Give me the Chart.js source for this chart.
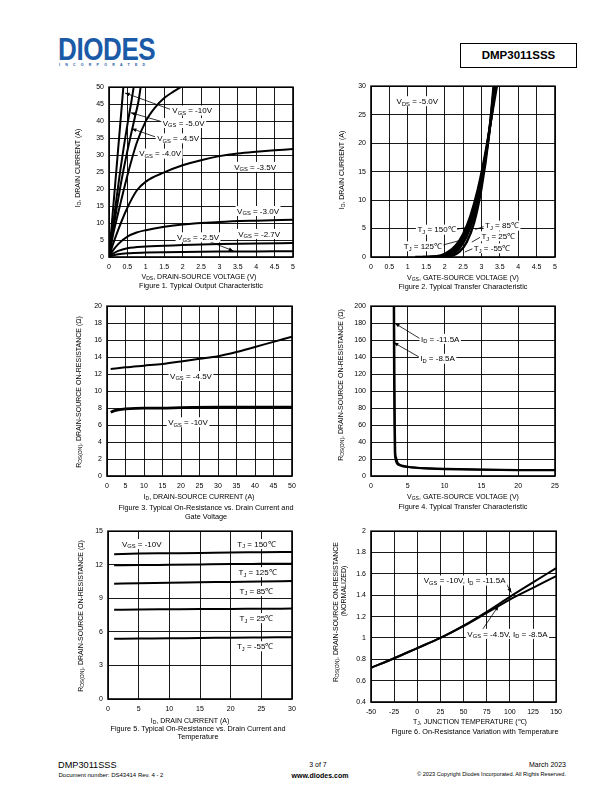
<!DOCTYPE html>
<html>
<head>
<meta charset="utf-8">
<title>DMP3011SSS typical characteristics</title>
<script src="https://cdn.jsdelivr.net/npm/chart.js@4.4.1/dist/chart.umd.min.js"></script>
<style>
  body { margin: 0; background: #fff; }
  #page { position: relative; width: 612px; height: 792px; overflow: hidden;
          font-family: "Liberation Sans", Arial, Helvetica, sans-serif; color: #000; }
  #page canvas { position: absolute; }
  .t { position: absolute; white-space: nowrap; line-height: 1; }
  .c { transform: translateX(-50%); text-align: center; }
  .r { transform: translate(-50%, -50%) rotate(-90deg); }
  sub { font-size: 72%; vertical-align: -0.25em; line-height: 0; }
</style>
</head>
<body>
<div id="page">
  <!-- header -->
  <div class="t" style="left:58px;top:33.5px;font-size:31px;font-weight:bold;color:#1b5aa7;transform-origin:0 0;transform:scaleX(0.84);letter-spacing:-0.5px">DIODES</div>
  <div class="t" style="left:59px;top:64px;font-size:3.6px;font-weight:bold;color:#1b5aa7;letter-spacing:5.2px">INCORPORATED</div>
  <div class="t" style="left:460px;top:42.5px;width:115px;height:23px;border:1px solid #000;font-size:11.5px;font-weight:bold;text-align:center;line-height:23px">DMP3011SSS</div>

  <canvas id="fig1"></canvas>
  <canvas id="fig2"></canvas>
  <canvas id="fig3"></canvas>
  <canvas id="fig4"></canvas>
  <canvas id="fig5"></canvas>
  <canvas id="fig6"></canvas>

  <!-- figure 1 -->
  <div class="t r" style="left:77px;top:168px;font-size:7px">I<sub>D</sub>, DRAIN CURRENT (A)</div>
  <div class="t c" style="left:199px;top:272.5px;font-size:7px">V<sub>DS</sub>, DRAIN-SOURCE VOLTAGE (V)</div>
  <div class="t c" style="left:201px;top:282px;font-size:7.3px">Figure 1. Typical Output Characteristic</div>
  <!-- figure 2 -->
  <div class="t r" style="left:341px;top:170px;font-size:7px">I<sub>D</sub>, DRAIN CURRENT (A)</div>
  <div class="t c" style="left:463px;top:273.5px;font-size:7px">V<sub>GS</sub>, GATE-SOURCE VOLTAGE (V)</div>
  <div class="t c" style="left:463px;top:282.5px;font-size:7.3px">Figure 2. Typical Transfer Characteristic</div>
  <!-- figure 3 -->
  <div class="t r" style="left:78px;top:392px;font-size:7px">R<sub>DS(ON)</sub>, DRAIN-SOURCE ON-RESISTANCE (Ω)</div>
  <div class="t c" style="left:199px;top:493px;font-size:7px">I<sub>D</sub>, DRAIN-SOURCE CURRENT (A)</div>
  <div class="t c" style="left:206px;top:502.5px;font-size:7.3px;line-height:9px">Figure 3. Typical On-Resistance vs. Drain Current and<br>Gate Voltage</div>
  <!-- figure 4 -->
  <div class="t r" style="left:340px;top:385px;font-size:7px">R<sub>DS(ON)</sub>, DRAIN-SOURCE ON-RESISTANCE (Ω)</div>
  <div class="t c" style="left:463px;top:493px;font-size:7px">V<sub>GS</sub>, GATE-SOURCE VOLTAGE (V)</div>
  <div class="t c" style="left:463px;top:502.5px;font-size:7.3px">Figure 4. Typical Transfer Characteristic</div>
  <!-- figure 5 -->
  <div class="t r" style="left:80px;top:616px;font-size:7px">R<sub>DS(ON)</sub>, DRAIN-SOURCE ON-RESISTANCE (Ω)</div>
  <div class="t c" style="left:190px;top:716.5px;font-size:7px">I<sub>D</sub>, DRAIN CURRENT (A)</div>
  <div class="t c" style="left:198px;top:724.5px;font-size:7.3px;line-height:8.5px">Figure 5. Typical On-Resistance vs. Drain Current and<br>Temperature</div>
  <!-- figure 6 -->
  <div class="t r" style="left:335px;top:612px;font-size:7px">R<sub>DS(ON)</sub>, DRAIN-SOURCE ON-RESISTANCE</div>
  <div class="t r" style="left:343px;top:591px;font-size:7px">(NORMALIZED)</div>
  <div class="t c" style="left:470px;top:718px;font-size:7px">T<sub>J</sub>, JUNCTION TEMPERATURE (℃)</div>
  <div class="t c" style="left:475px;top:727.5px;font-size:7.3px">Figure 6. On-Resistance Variation with Temperature</div>

  <!-- footer -->
  <div class="t" style="left:58px;top:760.5px;font-size:9.2px">DMP3011SSS</div>
  <div class="t" style="left:58.5px;top:771.5px;font-size:6px">Document number: DS43414 Rev. 4 - 2</div>
  <div class="t c" style="left:318px;top:761px;font-size:7px">3 of 7</div>
  <div class="t c" style="left:320px;top:771.5px;font-size:7px;font-weight:bold">www.diodes.com</div>
  <div class="t" style="right:46px;top:761px;font-size:7px">March 2023</div>
  <div class="t" style="right:46px;top:772px;font-size:5.6px">© 2023 Copyright Diodes Incorporated. All Rights Reserved.</div>
</div>

<script>
const FONT = '"Liberation Sans", Arial, Helvetica, sans-serif';

// ---- Figure 1: ID vs VDS for several VGS
const fig1XTicks = [0, 0.5, 1, 1.5, 2, 2.5, 3, 3.5, 4, 4.5, 5];
const fig1YTicks = [0, 5, 10, 15, 20, 25, 30, 35, 40, 45, 50];
const vgs10X  = [0, 0.1, 0.2, 0.3, 0.39];
const vgs10Y  = [0, 12.8, 25.6, 38.4, 50];
const vgs50X  = [0, 0.1, 0.2, 0.3, 0.4, 0.5, 0.6, 0.67];
const vgs50Y  = [0, 8.5, 17, 25, 32.3, 39, 45.2, 50];
const vgs45X  = [0, 0.1, 0.2, 0.3, 0.4, 0.5, 0.6, 0.7, 0.8, 0.86];
const vgs45Y  = [0, 7, 13.8, 20.2, 26, 31.3, 36.2, 41, 45.8, 50];
const vgs40X  = [0, 0.1, 0.25, 0.5, 0.75, 1, 1.25, 1.5, 1.75, 1.95];
const vgs40Y  = [0, 6, 13, 24, 33.5, 40, 44, 46.8, 48.7, 50];
const vgs35X  = [0, 0.1, 0.25, 0.5, 0.75, 1, 1.5, 2, 2.5, 3, 3.5, 4, 4.5, 5];
const vgs35Y  = [0, 3.5, 8, 14.5, 19.5, 22.2, 24.9, 27, 28.5, 29.7, 30.5, 31, 31.4, 31.8];
const vgs30X  = [0, 0.1, 0.25, 0.5, 0.75, 1, 1.5, 2, 3, 4, 5];
const vgs30Y  = [0, 1.8, 3.8, 6, 7.2, 7.9, 8.9, 9.6, 10.3, 10.7, 11];
const vgs27X  = [0, 0.1, 0.25, 0.5, 1, 2, 3, 4, 5];
const vgs27Y  = [0, 0.9, 1.8, 2.6, 3.1, 3.5, 3.8, 4, 4.1];
const vgs25X  = [0, 0.1, 0.25, 0.5, 1, 2, 3, 4, 5];
const vgs25Y  = [0, 0.4, 0.8, 1.1, 1.3, 1.5, 1.6, 1.65, 1.7];

// ---- Figure 2: ID vs VGS at several TJ
const fig2XTicks = [0, 0.5, 1, 1.5, 2, 2.5, 3, 3.5, 4, 4.5, 5];
const fig2YTicks = [0, 5, 10, 15, 20, 25, 30];
const tj150X = [1.2, 1.6, 1.9, 2.1, 2.3, 2.5, 2.7, 2.9, 3.1, 3.3, 3.42];
const tj150Y = [0, 0.05, 0.3, 0.9, 2, 4, 7.2, 11.8, 18, 25.5, 30];
const tj125X = [1.4, 1.8, 2, 2.2, 2.4, 2.6, 2.8, 3, 3.2, 3.39];
const tj125Y = [0, 0.1, 0.35, 1.1, 2.5, 4.9, 8.6, 14, 21.5, 30];
const tj85X  = [1.6, 1.9, 2.1, 2.3, 2.5, 2.7, 2.9, 3.1, 3.3, 3.37];
const tj85Y  = [0, 0.1, 0.45, 1.3, 3, 5.9, 10.4, 17, 26, 30];
const tj25X  = [1.8, 2, 2.2, 2.4, 2.6, 2.8, 3, 3.2, 3.35];
const tj25Y  = [0, 0.1, 0.45, 1.5, 3.6, 7.2, 13, 21.5, 30];
const tjm55X = [2, 2.2, 2.4, 2.6, 2.8, 3, 3.2, 3.33];
const tjm55Y = [0, 0.2, 0.9, 2.6, 6, 12, 21, 30];

// ---- Figure 3: RDS(on) vs ID at two VGS
const fig3XTicks = [0, 5, 10, 15, 20, 25, 30, 35, 40, 45, 50];
const fig3YTicks = [0, 2, 4, 6, 8, 10, 12, 14, 16, 18, 20];
const r45X = [1, 5, 10, 15, 20, 25, 30, 35, 40, 45, 50];
const r45Y = [12.6, 12.8, 13, 13.2, 13.5, 13.8, 14.1, 14.6, 15.2, 15.8, 16.4];
const r10X = [1, 2, 3, 5, 10, 15, 20, 30, 40, 50];
const r10Y = [7.5, 7.7, 7.8, 7.9, 8, 8, 8.05, 8.1, 8.1, 8.1];

// ---- Figure 4: RDS(on) vs VGS
const fig4XTicks = [0, 5, 10, 15, 20, 25];
const fig4YTicks = [0, 20, 40, 60, 80, 100, 120, 140, 160, 180, 200];
const id115X = [3.15, 3.2, 3.25, 3.3, 3.4, 3.6, 4, 4.5, 5, 6, 8, 10, 15, 20, 25];
const id115Y = [200, 120, 60, 30, 22, 16, 13, 11.8, 11, 10, 9, 8.4, 7.7, 7.2, 7];
const id85X  = [3.08, 3.12, 3.17, 3.22, 3.3, 3.5, 3.9, 4.4, 5, 6, 8, 10, 15, 20, 25];
const id85Y  = [200, 120, 60, 30, 21, 15, 12.5, 11.2, 10.5, 9.6, 8.6, 8, 7.3, 6.9, 6.7];

// ---- Figure 5: RDS(on) vs ID at several TJ
const fig5XTicks = [0, 5, 10, 15, 20, 25, 30];
const fig5YTicks = [0, 3, 6, 9, 12, 15];
const idX   = [1, 5, 10, 15, 20, 25, 30];
const r150  = [12.95, 13, 13.03, 13.06, 13.1, 13.12, 13.15];
const r125  = [11.95, 11.97, 12, 12.03, 12.06, 12.08, 12.1];
const r85   = [10.3, 10.35, 10.4, 10.43, 10.47, 10.5, 10.55];
const r25   = [7.98, 8, 8.02, 8.04, 8.05, 8.07, 8.08];
const rm55  = [5.38, 5.4, 5.43, 5.45, 5.48, 5.5, 5.52];

// ---- Figure 6: normalized RDS(on) vs TJ
const fig6XTicks = [-50, -25, 0, 25, 50, 75, 100, 125, 150];
const fig6YTicks = [0.4, 0.6, 0.8, 1, 1.2, 1.4, 1.6, 1.8, 2];
const tjX    = [-50, -25, 0, 25, 50, 75, 100, 125, 150];
const norm10 = [0.72, 0.81, 0.905, 1, 1.115, 1.245, 1.385, 1.52, 1.655];
const norm45 = [0.72, 0.81, 0.905, 1, 1.11, 1.235, 1.36, 1.47, 1.58];

function pts(xs, ys) { return xs.map((x, i) => ({ x: x, y: ys[i] })); }
function curve(xs, ys, w) {
  return { data: pts(xs, ys), showLine: true, borderColor: '#000', borderWidth: w || 2,
           pointRadius: 0, fill: false, cubicInterpolationMode: 'monotone' };
}

// text with _{subscript} parts, drawn on a white box
function drawRich(ctx, text, cx, cy, size) {
  const parts = text.split(/_\{|\}/);
  let w = 0;
  parts.forEach((p, i) => {
    ctx.font = (i % 2 ? size * 0.72 : size) + 'px ' + FONT;
    w += ctx.measureText(p).width;
  });
  ctx.fillStyle = '#fff';
  ctx.fillRect(cx - w / 2 - 1.5, cy - size * 0.6, w + 3, size * 1.25);
  ctx.fillStyle = '#000';
  ctx.textBaseline = 'alphabetic';
  let x = cx - w / 2;
  parts.forEach((p, i) => {
    const sub = i % 2 === 1;
    ctx.font = (sub ? size * 0.72 : size) + 'px ' + FONT;
    ctx.fillText(p, x, cy + size * 0.36 + (sub ? size * 0.22 : 0));
    x += ctx.measureText(p).width;
  });
}

function drawArrow(ctx, x1, y1, x2, y2, head) {
  ctx.beginPath(); ctx.moveTo(x1, y1); ctx.lineTo(x2, y2); ctx.stroke();
  if (!head) return;
  const a = Math.atan2(y2 - y1, x2 - x1), L = 5, W = 0.38;
  ctx.beginPath();
  ctx.moveTo(x2, y2);
  ctx.lineTo(x2 - L * Math.cos(a - W), y2 - L * Math.sin(a - W));
  ctx.lineTo(x2 - L * Math.cos(a + W), y2 - L * Math.sin(a + W));
  ctx.closePath(); ctx.fill();
}

function notes(labels, arrows, heads) {
  return {
    id: 'notes',
    beforeDatasetsDraw(chart) {
      const a = chart.chartArea, ctx = chart.ctx;
      ctx.save();
      ctx.strokeStyle = '#000'; ctx.lineWidth = 1.6;
      ctx.strokeRect(a.left, a.top, a.right - a.left, a.bottom - a.top);
      ctx.restore();
    },
    afterDatasetsDraw(chart) {
      const ctx = chart.ctx, sx = chart.scales.x, sy = chart.scales.y;
      ctx.save();
      ctx.strokeStyle = '#000'; ctx.fillStyle = '#000'; ctx.lineWidth = 0.8;
      arrows.forEach(r => drawArrow(ctx, sx.getPixelForValue(r[0]), sy.getPixelForValue(r[1]),
                                    sx.getPixelForValue(r[2]), sy.getPixelForValue(r[3]), heads));
      labels.forEach(l => drawRich(ctx, l[0], sx.getPixelForValue(l[1]), sy.getPixelForValue(l[2]), 8));
      ctx.restore();
    }
  };
}

function axis(min, max, ticks, isX) {
  return {
    type: 'linear', min: min, max: max,
    afterBuildTicks: s => { s.ticks = ticks.map(v => ({ value: v })); },
    afterFit: s => { if (isX) s.height = 20; else s.width = 34; },
    ticks: { color: '#000', font: { family: FONT, size: 7 }, padding: isX ? 6 : 5,
             autoSkip: false, maxRotation: 0, callback: v => String(v) },
    grid: { color: '#000', lineWidth: 0.9, drawTicks: false },
    border: { display: false }
  };
}

function makeChart(id, box, xr, yr, datasets, labels, arrows, heads) {
  const cv = document.getElementById(id);
  cv.width = box[2] + 44; cv.height = box[3] + 28;
  cv.style.left = (box[0] - 34) + 'px'; cv.style.top = (box[1] - 8) + 'px';
  new Chart(cv, {
    type: 'scatter',
    data: { datasets: datasets },
    options: {
      responsive: false, animation: false, devicePixelRatio: 1,
      layout: { padding: { left: 0, top: 8, right: 10, bottom: 0 } },
      plugins: { legend: { display: false }, tooltip: { enabled: false } },
      scales: { x: axis(xr[0], xr[1], xr[2], true), y: axis(yr[0], yr[1], yr[2], false) }
    },
    plugins: [notes(labels, arrows, heads)]
  });
}

makeChart('fig1', [109, 86, 184, 171], [0, 5, fig1XTicks], [0, 50, fig1YTicks], [
  curve(vgs10X, vgs10Y), curve(vgs50X, vgs50Y), curve(vgs45X, vgs45Y), curve(vgs40X, vgs40Y),
  curve(vgs35X, vgs35Y), curve(vgs30X, vgs30Y), curve(vgs27X, vgs27Y), curve(vgs25X, vgs25Y)
], [
  ['V_{GS} = -10V', 2.26, 43.2], ['V_{GS} = -5.0V', 2.03, 39.5], ['V_{GS} = -4.5V', 1.88, 35.0],
  ['V_{GS} = -4.0V', 1.39, 30.5], ['V_{GS} = -3.5V', 3.97, 26.6], ['V_{GS} = -3.0V', 4.05, 13.6],
  ['V_{GS} = -2.7V', 4.08, 6.85], ['V_{GS} = -2.5V', 2.42, 5.86]
], [
  [1.66, 43.5, 0.435, 48.3], [1.39, 40.0, 0.59, 42.5], [1.25, 35.4, 0.62, 37.8], [2.65, 4.9, 3.38, 1.8]
], true);

makeChart('fig2', [371, 85, 184, 172], [0, 5, fig2XTicks], [0, 30, fig2YTicks], [
  curve(tj150X, tj150Y, 2.4), curve(tj125X, tj125Y, 2.4), curve(tj85X, tj85Y, 2.4),
  curve(tj25X, tj25Y, 2.4), curve(tjm55X, tjm55Y, 2.4)
], [
  ['V_{DS} = -5.0V', 1.26, 27.4], ['T_{J} = 150℃', 1.78, 4.84], ['T_{J} = 85℃', 3.56, 5.54],
  ['T_{J} = 25℃', 3.46, 3.67], ['T_{J} = 125℃', 1.41, 1.92], ['T_{J} = -55℃', 3.29, 1.57]
], [
  [2.3, 4.84, 2.6, 5.2], [2.83, 4.84, 3.1, 5.42], [2.74, 2.62, 3.02, 3.67],
  [1.92, 2.04, 2.42, 2.92], [2.55, 0.87, 2.8, 1.57]
], false);

makeChart('fig3', [107, 305, 185, 171], [0, 50, fig3XTicks], [0, 20, fig3YTicks], [
  curve(r45X, r45Y), curve(r10X, r10Y, 2.8)
], [
  ['V_{GS} = -4.5V', 22.7, 11.8], ['V_{GS} = -10V', 21.9, 6.35]
], [], true);

makeChart('fig4', [371, 305, 184, 171], [0, 25, fig4XTicks], [0, 200, fig4YTicks], [
  curve(id115X, id115Y), curve(id85X, id85Y)
], [
  ['I_{D} = -11.5A', 9.4, 161.8], ['I_{D} = -8.5A', 9.04, 138.4]
], [
  [6.66, 161.8, 3.26, 179.8], [6.66, 139.5, 3.1, 157.1]
], true);

makeChart('fig5', [108, 530, 184, 169], [0, 30, fig5XTicks], [0, 15, fig5YTicks], [
  curve(idX, r150), curve(idX, r125), curve(idX, r85), curve(idX, r25), curve(idX, rm55)
], [
  ['V_{GS} = -10V', 5.5, 13.87], ['T_{J} = 150℃', 24.2, 13.87], ['T_{J} = 125℃', 24.4, 11.36],
  ['T_{J} = 85℃', 24.2, 9.67], ['T_{J} = 25℃', 24.2, 7.25], ['T_{J} = -55℃', 24.0, 4.73]
], [], true);

makeChart('fig6', [371, 530, 187, 172], [-50, 150, fig6XTicks], [0.4, 2, fig6YTicks], [
  curve(tjX, norm10), curve(tjX, norm45)
], [
  ['V_{GS} = -10V, I_{D} = -11.5A', 51.2, 1.54], ['V_{GS} = -4.5V, I_{D} = -8.5A', 97.4, 1.04]
], [
  [96.3, 1.506, 101.6, 1.425], [69.6, 1.068, 87.7, 1.30]
], true);
</script>
</body>
</html>
